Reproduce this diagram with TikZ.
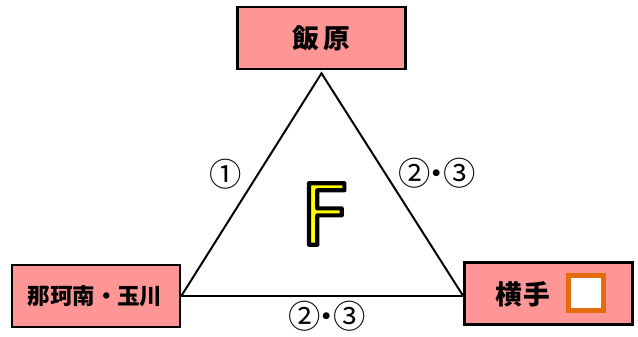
\documentclass[tikz,border=0pt]{standalone}
\usepackage{fontspec}
\usepackage{xcolor}
\usepackage{tikz}
\usetikzlibrary{positioning,calc}

\newfontfamily\jpfont{Noto Sans CJK JP}
\newfontfamily\bigfont{DejaVu Sans}
\definecolor{boxpink}{RGB}{255,150,150}
\definecolor{markorange}{RGB}{228,108,10}
% yellow letter with a black outline (fill + stroke text mode)
\newcommand{\outlined}[1]{\special{pdf:bcolor [1 1 0] [0 0 0]}\special{pdf:literal direct 2 Tr 3 w 1 j}#1\special{pdf:literal direct 0 Tr}\special{pdf:ecolor}}

\begin{document}
\begin{tikzpicture}[
				x=0.025cm, y=-0.025cm,
				citybox/.style={
					rectangle, draw=black, line width=1.8pt,
					fill=boxpink, minimum width=4.2cm,
					minimum height=1.55cm, inner sep=0pt
				},
				cityname/.style={font=\jpfont\bfseries\fontsize{19}{19}\selectfont},
				link/.style={line width=1.4pt, black, line join=miter},
				lbl/.style={font=\jpfont\fontsize{23}{23}\selectfont, inner sep=0pt}
				]
				\useasboundingbox (0,0) rectangle (638,336);
				% three places
				\node[citybox] (iihara) at (321.5,38) {};
				\node[citybox] (naka)   at (96,296) {};
				\node[citybox] (yokote) at (548.5,293.5) {};
				\node[cityname] (iiharaName) at (iihara.center) {飯\hspace{3pt}原};
				\node[cityname, font=\jpfont\bfseries\fontsize{16}{16}\selectfont] (nakaName) at (95,296) {那珂南・玉川};
				\node[cityname] (yokoteName) at (523,294) {横\hspace{1pt}手};
				\node[draw=markorange, fill=white, line width=3.6pt, minimum size=0.86cm, inner sep=0pt] (mark) at (586,293) {};
				
				% triangle
				\coordinate (apex) at ($(iihara.south)+(0,3)$);
				\draw[link] (apex) -- (naka.east) -- (yokote.west |- naka.east) -- cycle;
				
				\node[lbl] (lblA) at (225.5,174) {①};
				\node[lbl] (lblB) at (437,173) {②\makebox[0.3cm]{・}③};
				\node[lbl] (lblC) at (327,316) {②\makebox[0.3cm]{・}③};
				
				\node[font=\bigfont\fontsize{60}{60}\selectfont, inner sep=0pt] (bigF) at (325,214) {\outlined{F}};
\end{tikzpicture}
\end{document}
